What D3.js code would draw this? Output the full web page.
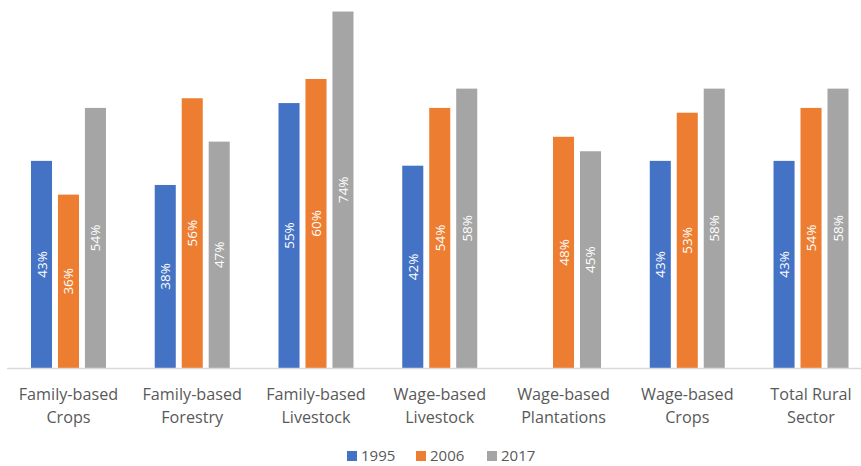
<!DOCTYPE html>
<html>
<head>
<meta charset="utf-8">
<script src="https://cdn.jsdelivr.net/npm/d3@7"></script>
<style>
  html, body { margin: 0; padding: 0; background: #fff; }
  svg { display: block; }
</style>
</head>
<body>
<svg id="chart" width="861" height="466"></svg>
<script>
const categories = [
  ["Family-based", "Crops"],
  ["Family-based", "Forestry"],
  ["Family-based", "Livestock"],
  ["Wage-based", "Livestock"],
  ["Wage-based", "Plantations"],
  ["Wage-based", "Crops"],
  ["Total Rural", "Sector"]
];
const seriesNames = ["1995", "2006", "2017"];
const values1995 = [43, 38, 55, 42, null, 43, 43];
const values2006 = [36, 56, 60, 54, 48, 53, 54];
const values2017 = [54, 47, 74, 58, 45, 58, 58];
const colors = ["#4472C4", "#ED7D31", "#A5A5A5"];

const seriesValues = [values1995, values2006, values2017];
const svg = d3.select("#chart");
const baseY = 368;
const yMax = 76.4;

const catKeys = categories.map((c, i) => i);
const x0 = d3.scaleBand().domain(catKeys).range([6.6, 872.9]).padding(0);
const groupW = 75;
const x1 = d3.scaleBand().domain(seriesNames)
  .range([x0.bandwidth() / 2 - groupW / 2, x0.bandwidth() / 2 + groupW / 2])
  .paddingInner(0.22).paddingOuter(0);
const y = d3.scaleLinear().domain([0, yMax]).range([baseY, 0]);

const data = [];
catKeys.forEach(ci => {
  seriesNames.forEach((s, si) => {
    const v = seriesValues[si][ci];
    if (v != null) data.push({ ci, s, si, v });
  });
});

const g = svg.append("g");
g.selectAll("rect").data(data).enter().append("rect")
  .attr("x", d => x0(d.ci) + x1(d.s))
  .attr("y", d => y(d.v))
  .attr("width", x1.bandwidth())
  .attr("height", d => baseY - y(d.v))
  .attr("fill", d => colors[d.si]);

g.selectAll("text.lbl").data(data).enter().append("text")
  .attr("class", "lbl")
  .attr("transform", d => {
    const cx = x0(d.ci) + x1(d.s) + x1.bandwidth() / 2;
    const cy = (y(d.v) + baseY) / 2;
    return `translate(${cx},${cy}) rotate(-90)`;
  })
  .attr("text-anchor", "middle")
  .attr("dominant-baseline", "central")
  .attr("font-family", "'Liberation Sans Narrow', 'Open Sans', sans-serif")
  .attr("font-size", 13.5)
  .attr("fill", "#ffffff")
  .text(d => d.v + "%");

const xAxis = d3.axisBottom(x0).tickSize(0).tickFormat(() => "");
const ax = svg.append("g").attr("transform", `translate(0,${baseY})`).call(xAxis);
ax.select(".domain").attr("stroke", "#d9d9d9").attr("stroke-width", 1.5);

const tl = svg.append("g");
categories.forEach((c, i) => {
  const cx = x0(i) + x0.bandwidth() / 2;
  const t = tl.append("text")
    .attr("x", cx).attr("y", 400)
    .attr("text-anchor", "middle")
    .attr("font-family", "'Open Sans', sans-serif")
    .attr("font-size", 16.2)
    .attr("fill", "#595959");
  t.append("tspan").attr("x", cx).attr("dy", 0).text(c[0]);
  t.append("tspan").attr("x", cx).attr("dy", 23).text(c[1]);
});

const legendX = [347, 416, 487];
const lg = svg.append("g");
seriesNames.forEach((s, i) => {
  lg.append("rect").attr("x", legendX[i]).attr("y", 451).attr("width", 10).attr("height", 10).attr("fill", colors[i]);
  lg.append("text").attr("x", legendX[i] + 14).attr("y", 461)
    .attr("font-family", "'Open Sans', sans-serif")
    .attr("font-size", 15)
    .attr("fill", "#595959")
    .text(s);
});
</script>
</body>
</html>
